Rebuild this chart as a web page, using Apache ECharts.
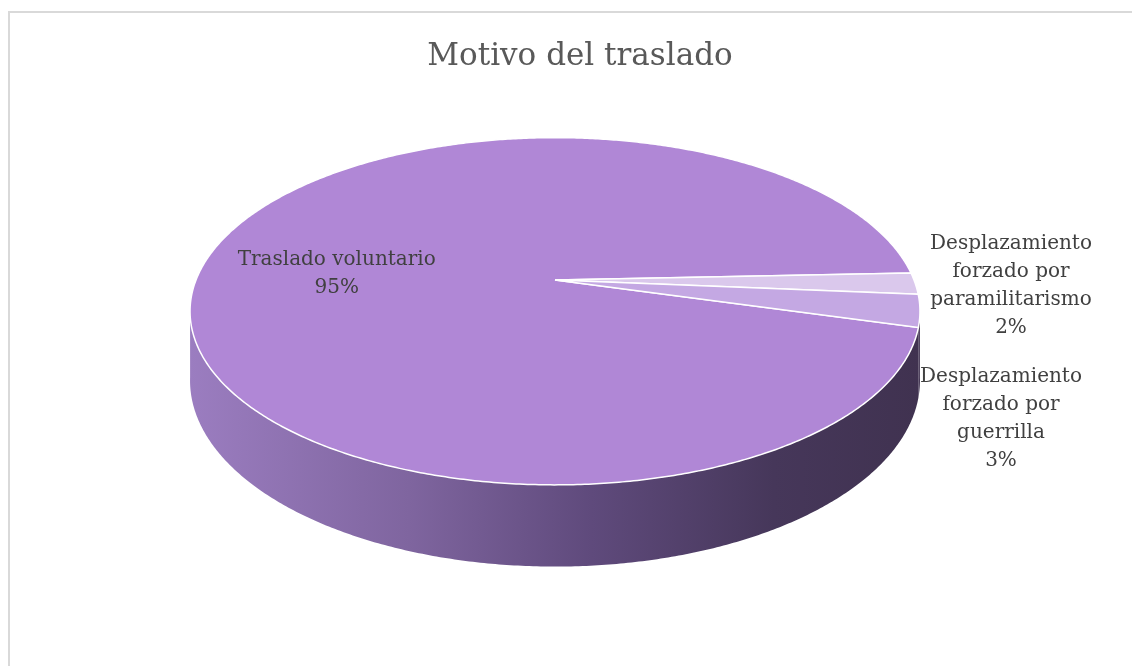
<!DOCTYPE html>
<html>
<head>
<meta charset="utf-8">
<title>Motivo del traslado</title>
<script src="https://cdn.jsdelivr.net/npm/echarts@6/dist/echarts.min.js"></script>
<style>
    html, body { margin:0; padding:0; background:#fff; }
    #main { width:1132px; height:666px; }
</style>
</head>
<body>
<div id="main"></div>
<script>
// datos del grafico
var categorias = ['Traslado voluntario', 'Desplazamiento\nforzado por\nparamilitarismo', 'Desplazamiento\nforzado por\nguerrilla'];
var valores = [95, 2, 3];
var coloresTapa = ['#b087d6', '#dac8ec', '#c4a8e3'];

// geometria del pastel 3D (perspectiva sencilla)
var cx = 555, cy = 280;      // vertice de las porciones
var R = 359, S = 168;        // radio horizontal / vertical
var K = 0.18;                // factor de perspectiva
var H = 67;                  // grosor
var inicio = -15.6;          // grados, antihorario desde las 3
// etiquetas que Excel saca fuera del pastel
var etiquetasFuera = { 1: [1011, 286], 2: [1001, 419] };

var total = valores.reduce(function (a, b) { return a + b; }, 0);
var rangos = [];
var cur = inicio;
valores.forEach(function (v) {
    var fin = cur - v / total * 360;
    rangos.push([fin, cur]);
    cur = fin;
});

function proj(tDeg, r, drop) {
    var t = tDeg * Math.PI / 180;
    var X = r * Math.cos(t), Y = r * Math.sin(t);
    var w = 1 + K * Y;
    return [cx + R * X / w, cy + (-S * Y + drop) / w];
}

function arco(a, b, drop) {
    // de a hacia b, paso de ~0.5 grados
    var pts = [];
    var n = Math.max(2, Math.ceil(Math.abs(b - a) / 0.5));
    for (var i = 0; i <= n; i++) {
        pts.push(proj(a + (b - a) * i / n, 1, drop));
    }
    return pts;
}

var asinK = Math.asin(K) * 180 / Math.PI;
var visLo = -180 + asinK - 1, visHi = -asinK + 1;

var gradLado = new echarts.graphic.LinearGradient(190, 0, 920, 0, [
    { offset: 0, color: '#9b7dc0' },
    { offset: 0.3, color: '#7f659f' },
    { offset: 0.55, color: '#5f4a7c' },
    { offset: 0.8, color: '#46375a' },
    { offset: 1, color: '#403250' }
], true);

function renderLado(params, api) {
    var r = rangos[params.dataIndex];
    var hijos = [];
    [-360, 0, 360].forEach(function (m) {
        var lo = Math.max(r[0], visLo + m), hi = Math.min(r[1], visHi + m);
        if (hi > lo) {
            var arriba = arco(hi, lo, 0);
            var abajo = arco(lo, hi, H);
            hijos.push({
                type: 'polygon',
                shape: { points: arriba.concat(abajo) },
                style: { fill: gradLado, stroke: null }
            });
        }
    });
    return { type: 'group', children: hijos };
}

var fuente = '"DejaVu Serif", serif';

function renderTapa(params, api) {
    var i = params.dataIndex;
    var r = rangos[i];
    var pts = [[cx, cy]].concat(arco(r[1], r[0], 0));
    var pct = Math.round(valores[i] / total * 100) + '%';
    var pos;
    if (etiquetasFuera[i]) {
        pos = etiquetasFuera[i];
    } else {
        pos = proj((r[0] + r[1]) / 2, 0.62, 0);
        pos = [pos[0], pos[1] + 6];
    }
    return {
        type: 'group',
        children: [{
            type: 'polygon',
            shape: { points: pts },
            style: { fill: coloresTapa[i], stroke: '#ffffff', lineWidth: 1.5 }
        }, {
            type: 'text',
            z2: 10,
            style: {
                text: categorias[i] + '\n' + pct,
                x: pos[0], y: pos[1],
                align: 'center', verticalAlign: 'middle',
                fontFamily: fuente, fontSize: 20, lineHeight: 28,
                fill: '#404040'
            }
        }]
    };
}

var myChart = echarts.init(document.getElementById('main'));
myChart.setOption({
    animation: false,
    title: {
        text: 'Motivo del traslado',
        left: 575,
        textAlign: 'center',
        top: 36,
        textStyle: { fontFamily: fuente, fontSize: 31, fontWeight: 'normal', color: '#595959' }
    },
    graphic: [{
        type: 'polyline',
        shape: { points: [[9, 700], [9, 12], [1200, 12]] },
        style: { fill: null, stroke: '#d9d9d9', lineWidth: 2 },
        silent: true
    }],
    series: [{
        type: 'custom',
        coordinateSystem: 'none',
        z: 1,
        renderItem: renderLado,
        data: valores.map(function (v) { return [v]; })
    }, {
        type: 'custom',
        coordinateSystem: 'none',
        z: 2,
        renderItem: renderTapa,
        data: valores.map(function (v) { return [v]; })
    }]
});
</script>
</body>
</html>
